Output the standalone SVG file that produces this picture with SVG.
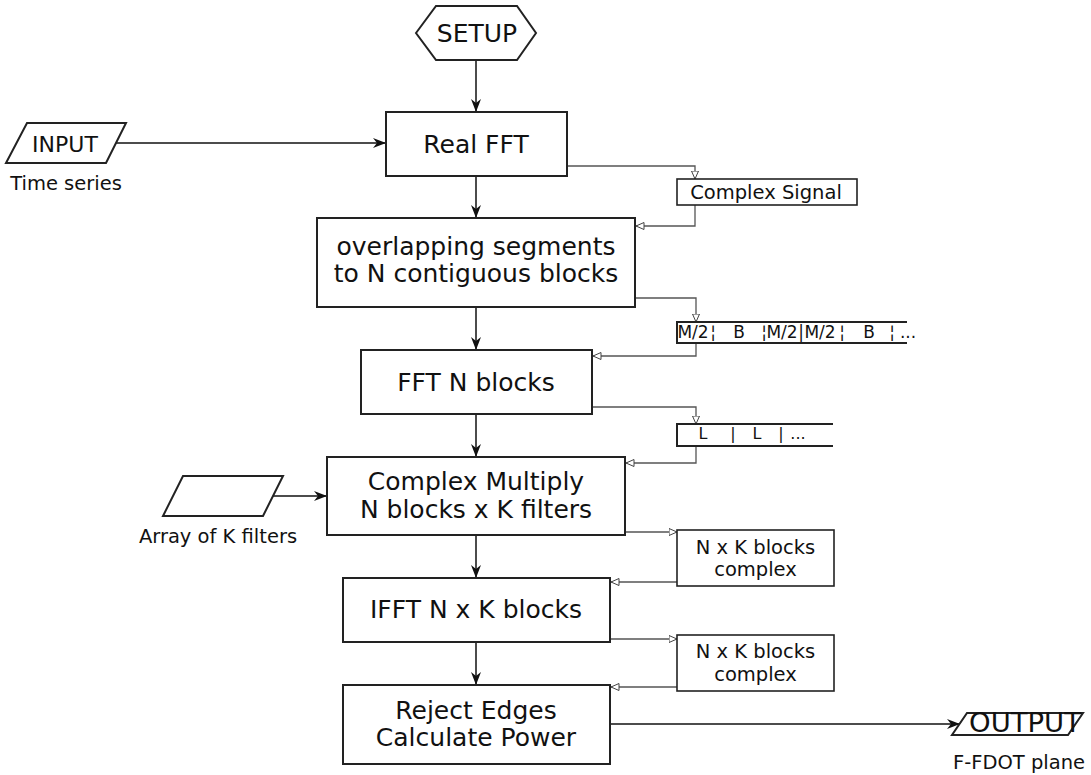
<svg xmlns="http://www.w3.org/2000/svg" width="1091" height="775" viewBox="0 0 1091 775">
<style>
  .box { fill: #fff; stroke: #222; stroke-width: 2; }
  .sbox { fill: #fff; stroke: #222; stroke-width: 1.6; }
  .edge { fill: none; stroke: #222; stroke-width: 2; }
  .t { font-family: "DejaVu Sans", sans-serif; fill: #111; text-anchor: middle; }
  .big { font-size: 25px; }
  .main { fill: none; stroke: #111; stroke-width: 1.5; marker-end: url(#arr); }
  .side { fill: none; stroke: #555; stroke-width: 1.3; marker-end: url(#open); }
</style>
<defs>
  <marker id="arr" markerUnits="userSpaceOnUse" markerWidth="14" markerHeight="11" refX="13" refY="5" orient="auto">
    <path d="M0,0 L13,5 L0,10 L4,5 z" fill="#111"/>
  </marker>
  <marker id="open" markerUnits="userSpaceOnUse" markerWidth="10" markerHeight="9" refX="8.5" refY="4" orient="auto">
    <path d="M0.5,0.5 L8.5,4 L0.5,7.5 z" fill="#fff" stroke="#444" stroke-width="1"/>
  </marker>
</defs>

<g id="connectors">
  <line class="main" x1="476" y1="60" x2="476" y2="112"/>
  <line class="main" x1="476" y1="176" x2="476" y2="218"/>
  <line class="main" x1="476" y1="307" x2="476" y2="350"/>
  <line class="main" x1="476" y1="414" x2="476" y2="457"/>
  <line class="main" x1="476" y1="535" x2="476" y2="578"/>
  <line class="main" x1="476" y1="642" x2="476" y2="685"/>
  <line class="main" x1="116" y1="143" x2="386" y2="143"/>
  <line class="main" x1="273" y1="496" x2="327" y2="496"/>
  <line class="main" x1="610" y1="724" x2="960" y2="724"/>

  <polyline class="side" points="567,166 695,166 695,179"/>
  <polyline class="side" points="695,205 695,226 636,226"/>
  <polyline class="side" points="635,298 696,298 696,322"/>
  <polyline class="side" points="696,343 696,356 593,356"/>
  <polyline class="side" points="592,407 696,407 696,424"/>
  <polyline class="side" points="696,446 696,463 626,463"/>
  <polyline class="side" points="625,532 677,532"/>
  <polyline class="side" points="677,582 611,582"/>
  <polyline class="side" points="610,639 677,639"/>
  <polyline class="side" points="677,687 611,687"/>
</g>

<g id="setup">
  <polygon class="box" points="416,33 436,6 517,6 536,33 517,60 436,60"/>
  <text class="t big" x="477" y="42">SETUP</text>
</g>

<g id="input">
  <polygon class="box" points="27,123 126,123 106,163 6,163"/>
  <text class="t" x="65" y="152" font-size="22">INPUT</text>
  <text class="t" x="66" y="190" font-size="19.5">Time series</text>
</g>

<g id="real-fft">
  <rect class="box" x="386" y="112" width="181" height="64"/>
  <text class="t big" x="476" y="153">Real FFT</text>
</g>

<g id="complex-signal">
  <rect class="sbox" x="677" y="179" width="180" height="26"/>
  <text class="t" x="766" y="199" font-size="19.5">Complex Signal</text>
</g>

<g id="overlapping">
  <rect class="box" x="317" y="218" width="318" height="89"/>
  <text class="t big" x="476" y="255">overlapping segments</text>
  <text class="t big" x="476" y="282">to N contiguous blocks</text>
</g>

<g id="segments">
  <polyline class="edge" points="907,322 677,322 677,343 907,343"/>
  <text class="t" y="338" font-size="17"><tspan x="693">M/2</tspan><tspan x="713">¦</tspan><tspan x="739">B</tspan><tspan x="764">¦</tspan><tspan x="782">M/2</tspan><tspan x="801">|</tspan><tspan x="820">M/2</tspan><tspan x="842">¦</tspan><tspan x="869">B</tspan><tspan x="892">¦</tspan><tspan x="908">...</tspan></text>
</g>

<g id="fft-n">
  <rect class="box" x="361" y="350" width="231" height="64"/>
  <text class="t big" x="476" y="391">FFT N blocks</text>
</g>

<g id="l-blocks">
  <polyline class="edge" points="833,424 677,424 677,446 833,446"/>
  <text class="t" y="439" font-size="16"><tspan x="703">L</tspan><tspan x="733">|</tspan><tspan x="757">L</tspan><tspan x="781">|</tspan><tspan x="798">...</tspan></text>
</g>

<g id="array-filters">
  <polygon class="box" points="183,476 283,476 263,516 163,516"/>
  <text class="t" x="218" y="543" font-size="19.5">Array of K filters</text>
</g>

<g id="complex-multiply">
  <rect class="box" x="327" y="457" width="298" height="78"/>
  <text class="t big" x="476" y="490">Complex Multiply</text>
  <text class="t big" x="476" y="518">N blocks x K filters</text>
</g>

<g id="nxk1">
  <rect class="sbox" x="677" y="530" width="157" height="56"/>
  <text class="t" x="755.5" y="554" font-size="19.5">N x K blocks</text>
  <text class="t" x="755.5" y="576" font-size="19.5">complex</text>
</g>

<g id="ifft">
  <rect class="box" x="343" y="578" width="267" height="64"/>
  <text class="t big" x="476" y="618">IFFT N x K blocks</text>
</g>

<g id="nxk2">
  <rect class="sbox" x="677" y="635" width="157" height="56"/>
  <text class="t" x="755.5" y="658" font-size="19.5">N x K blocks</text>
  <text class="t" x="755.5" y="681" font-size="19.5">complex</text>
</g>

<g id="reject">
  <rect class="box" x="343" y="685" width="267" height="79"/>
  <text class="t big" x="476" y="719">Reject Edges</text>
  <text class="t big" x="476" y="746">Calculate Power</text>
</g>

<g id="output">
  <polygon class="box" points="967,713 1083,713 1068,735 952,735"/>
  <text class="t" x="1025" y="732" font-size="26" textLength="112" lengthAdjust="spacingAndGlyphs">OUTPUT</text>
  <text class="t" x="1019" y="769" font-size="19.5">F-FDOT plane</text>
</g>
</svg>
